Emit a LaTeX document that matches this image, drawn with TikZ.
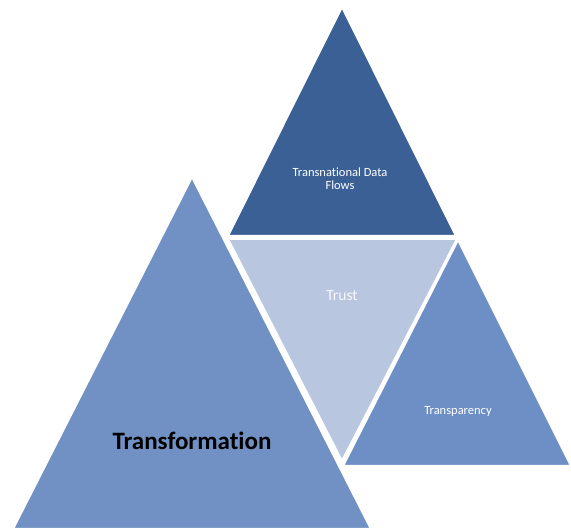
\documentclass[tikz,border=0pt]{standalone}
\usepackage{fontspec}
\setmainfont{Carlito}[Ligatures=NoCommon]
\begin{document}
\begin{tikzpicture}[x=1pt,y=-1pt,
  tri/.style={draw=white,line width=2pt,line join=miter},
  lbl/.style={text=white,font=\fontsize{12.5}{14}\selectfont,align=center}]
\definecolor{bigblue}{HTML}{7191C4}
\definecolor{darkblue}{HTML}{3B6096}
\definecolor{lightblue}{HTML}{B8C6E0}
\definecolor{midblue}{HTML}{6E8FC6}
\useasboundingbox (0,0) rectangle (571,529);
\fill[white] (0,0) rectangle (571,529);
% Transformation
\path[tri,fill=bigblue] (192,177) -- (371,529) -- (13,529) -- cycle;
% Transnational Data Flows
\path[tri,fill=darkblue] (342,7) -- (456,236) -- (228,236) -- cycle;
% Trust
\path[tri,fill=lightblue] (228,239) -- (457,239) -- (342,461) -- cycle;
% Transparency
\path[tri,fill=midblue] (458,240) -- (571,466) -- (343,466) -- cycle;
\node[lbl] (tdf) at (340,179) {Transnational Data\\[-1pt]Flows};
\node[lbl,text=white!88!lightblue,font=\fontsize{15.5}{17}\selectfont] (trust) at (342,296) {Trust};
\node[lbl] (transp) at (458,411) {Transparency};
\node[font=\bfseries\fontsize{25}{29}\selectfont,text=black] (transf) at (192,441) {Transformation};
\end{tikzpicture}
\end{document}
